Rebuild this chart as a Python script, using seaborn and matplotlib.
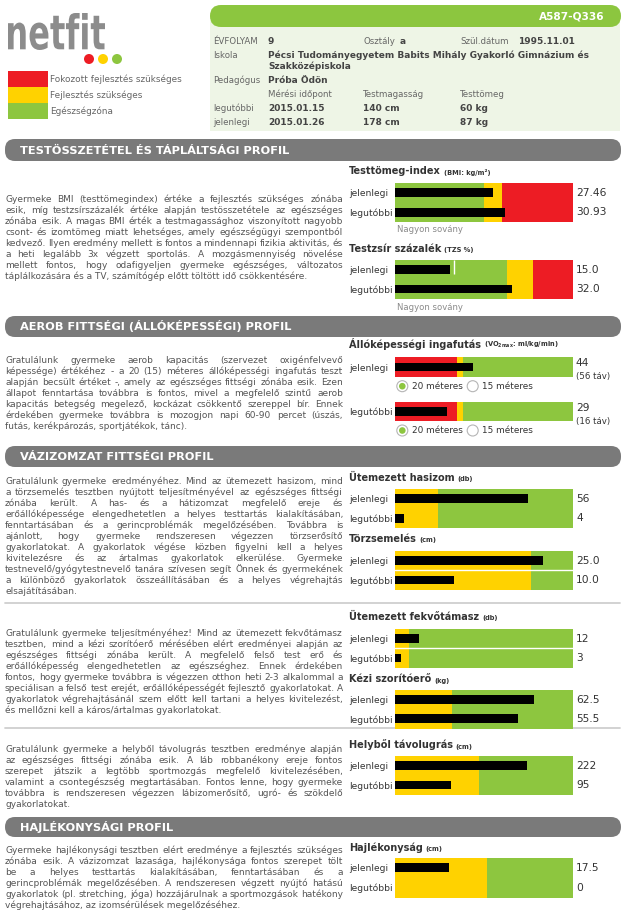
import matplotlib
matplotlib.use("Agg")
import matplotlib.pyplot as plt
import seaborn as sns
from matplotlib.patches import FancyBboxPatch, Rectangle, Circle, PathPatch
from matplotlib.textpath import TextPath
from matplotlib.font_manager import FontProperties
from matplotlib.transforms import Affine2D

sns.set_theme(style="white")
plt.rcParams["font.family"] = ["DejaVu Sans"]

# ------------------------------------------------------------------
# data
# ------------------------------------------------------------------
row_labels = ["jelenlegi", "legutóbbi"]

bmi_values = [27.46, 30.93]
bmi_text = ["27.46", "30.93"]
bmi_bounds = [0, 25, 30, 50]
bmi_zones = ["ok", "dev", "crit"]

tzs_values = [15.0, 32.0]
tzs_text = ["15.0", "32.0"]
tzs_bounds = [0, 30.5, 37.5, 48.5]
tzs_zones = ["ok", "dev", "crit"]
tzs_prev_mark = 16.2

vo2_values = [44, 29]
vo2_text = ["44", "29"]
vo2_laps = ["(56 táv)", "(16 táv)"]
vo2_bounds = [[0, 35, 38, 100], [0, 35, 38.3, 100]]
vo2_zones = ["crit", "dev", "ok"]
run_options = ["20 méteres", "15 méteres"]
run_selected = [0, 0]

hasizom_values = [56, 4]
hasizom_text = ["56", "4"]
hasizom_bounds = [0, 18, 75]

torzs_values = [25.0, 10.0]
torzs_text = ["25.0", "10.0"]
torzs_bounds = [0, 23, 30]

fekvo_values = [12, 3]
fekvo_text = ["12", "3"]
fekvo_bounds = [0, 7, 90]

kezi_values = [62.5, 55.5]
kezi_text = ["62.5", "55.5"]
kezi_bounds = [0, 25.6, 80]

tavol_values = [222, 95]
tavol_text = ["222", "95"]
tavol_bounds = [0, 141, 300]

hajl_values = [17.5, 0]
hajl_text = ["17.5", "0"]
hajl_bounds = [0, 30, 58]

two_zones = ["dev", "ok"]

legend_labels = ["Fokozott fejlesztés szükséges", "Fejlesztés szükséges", "Egészségzóna"]
legend_zones = ["crit", "dev", "ok"]

section_titles = [
    "TESTÖSSZETÉTEL ÉS TÁPLÁLTSÁGI PROFIL",
    "AEROB FITTSÉGI (ÁLLÓKÉPESSÉGI) PROFIL",
    "VÁZIZOMZAT FITTSÉGI PROFIL",
    "HAJLÉKONYSÁGI PROFIL",
]

text_body = [
    "Gyermeke BMI (testtömegindex) értéke a fejlesztés szükséges zónába",
    "esik, míg testzsírszázalék értéke alapján testösszetétele az egészséges",
    "zónába esik. A magas BMI érték a testmagassághoz viszonyított nagyobb",
    "csont- és izomtömeg miatt lehetséges, amely egészségügyi szempontból",
    "kedvező. Ilyen eredmény mellett is fontos a mindennapi fizikia aktivitás, és",
    "a heti legalább 3x végzett sportolás. A mozgásmennyiség növelése",
    "mellett fontos, hogy odafigyeljen gyermeke egészséges, változatos",
    "táplálkozására és a TV, számítógép előtt töltött idő csökkentésére.",
]
text_aerob = [
    "Gratulálunk gyermeke aerob kapacitás (szervezet oxigénfelvevő",
    "képessége) értékéhez - a 20 (15) méteres állóképességi ingafutás teszt",
    "alapján becsült értéket -, amely az egészséges fittségi zónába esik. Ezen",
    "állapot fenntartása továbbra is fontos, mivel a megfelelő szintű aerob",
    "kapacitás betegség megelező, kockázat csökkentő szereppel bír. Ennek",
    "érdekében gyermeke továbbra is mozogjon napi 60-90 percet (úszás,",
    "futás, kerékpározás, sportjátékok, tánc).",
]
text_core = [
    "Gratulálunk gyermeke eredményéhez. Mind az ütemezett hasizom, mind",
    "a törzsemelés tesztben nyújtott teljesítményével az egészséges fittségi",
    "zónába került. A has- és a hátizomzat megfelelő ereje és",
    "erőállóképessége elengedhetetlen a helyes testtartás kialakításában,",
    "fenntartásában és a gerincproblémák megelőzésében. Továbbra is",
    "ajánlott, hogy gyermeke rendszeresen végezzen törzserősítő",
    "gyakorlatokat. A gyakorlatok végése közben figyelni kell a helyes",
    "kivitelezésre és az ártalmas gyakorlatok elkerülése. Gyermeke",
    "testnevelő/gyógytestnevelő tanára szívesen segít Önnek és gyermekének",
    "a különböző gyakorlatok összeállításában és a helyes végrehajtás",
    "elsajátításában.",
]
text_upper = [
    "Gratulálunk gyermeke teljesítményéhez! Mind az ütemezett fekvőtámasz",
    "tesztben, mind a kézi szorítóerő mérésében elért eredményei alapján az",
    "egészséges fittségi zónába került. A megfelelő felső test erő és",
    "erőállóképesség elengedhetetlen az egészséghez. Ennek érdekében",
    "fontos, hogy gyermeke továbbra is végezzen otthon heti 2-3 alkalommal a",
    "speciálisan a felső test erejét, erőállóképességét fejlesztő gyakorlatokat. A",
    "gyakorlatok végrehajtásánál szem előtt kell tartani a helyes kivitelezést,",
    "és mellőzni kell a káros/ártalmas gyakorlatokat.",
]
text_jump = [
    "Gratulálunk gyermeke a helyből távolugrás tesztben eredménye alapján",
    "az egészséges fittségi zónába esik. A láb robbanékony ereje fontos",
    "szerepet játszik a legtöbb sportmozgás megfelelő kivitelezésében,",
    "valamint a csontegészség megtartásában. Fontos lenne, hogy gyermeke",
    "továbbra is rendszeresen végezzen lábizomerősítő, ugró- és szökdelő",
    "gyakorlatokat.",
]
text_flex = [
    "Gyermeke hajlékonysági tesztben elért eredménye a fejlesztés szükséges",
    "zónába esik. A vázizomzat lazasága, hajlékonysága fontos szerepet tölt",
    "be a helyes testtartás kialakításában, fenntartásában és a",
    "gerincproblémák megelőzésében. A rendszeresen végzett nyújtó hatású",
    "gyakorlatok (pl. stretching, jóga) hozzájárulnak a sportmozgások hatékony",
    "végrehajtásához, az izomsérülések megelőzéséhez.",
]

student_id = "A587-Q336"
info_grade, info_class, info_birth = "9", "a", "1995.11.01"
info_school = ["Pécsi Tudományegyetem Babits Mihály Gyakorló Gimnázium és", "Szakközépiskola"]
info_teacher = "Próba Ödön"
meas_headers = ["Mérési időpont", "Testmagasság", "Testtömeg"]
meas_rows = [
    ["legutóbbi", "2015.01.15", "140 cm", "60 kg"],
    ["jelenlegi", "2015.01.26", "178 cm", "87 kg"],
]

# ------------------------------------------------------------------
# styling
# ------------------------------------------------------------------
ZONE = {"crit": "#ed1c24", "dev": "#ffd200", "ok": "#8dc63f"}
W, H = 625, 913
DARK = "#333333"
GREY = "#666666"
PARA = dict(fontsize=6.5, color="#555555", va="baseline", ha="left")

fig = plt.figure(figsize=(W / 100, H / 100), dpi=100)
bg = fig.add_axes([0, 0, 1, 1])
bg.set_xlim(0, W)
bg.set_ylim(H, 0)
bg.axis("off")
renderer = fig.canvas.get_renderer()


def px_axes(x0, y0, x1, y1):
    return fig.add_axes([x0 / W, 1 - y1 / H, (x1 - x0) / W, (y1 - y0) / H])


def paragraph(lines, y0, x0=5, x1=343, dy=11):
    # justified block: every line but the last is stretched to the column width
    for i, line in enumerate(lines):
        y = y0 + i * dy + 3
        if i == len(lines) - 1:
            bg.text(x0, y, line, **PARA)
            continue
        words = line.split()
        arts = [bg.text(0, y, w, **PARA) for w in words]
        widths = [a.get_window_extent(renderer).width for a in arts]
        gap = (x1 - x0 - sum(widths)) / (len(words) - 1)
        x = x0
        for a, w in zip(arts, widths):
            a.set_x(x)
            x += w + gap


def section(title, y0, y1):
    bg.add_patch(FancyBboxPatch((5, y0), 616, y1 - y0,
                                boxstyle="round,pad=0,rounding_size=10",
                                fc="#7a7a7a", ec="none"))
    bg.text(20, (y0 + y1) / 2 + 4, title, fontsize=8.2, fontweight="bold",
            color="white", va="baseline")


def chart_title(y, title, unit):
    t = bg.text(349, y + 3, title, fontsize=7, fontweight="bold", color=DARK, va="baseline")
    bg.annotate(unit, xy=(1, 0), xycoords=t, xytext=(2, 0.5),
                textcoords="offset points", fontsize=4.8, fontweight="bold",
                color=DARK, va="bottom")


def zone_chart(box, values, labels, bounds, zones, texts=None, split=False):
    ax = px_axes(*box)
    for lo, hi, z in zip(bounds[:-1], bounds[1:], zones):
        ax.axvspan(lo, hi, color=ZONE[z], lw=0, zorder=0)
    sns.barplot(x=values, y=labels, orient="h", color="black", saturation=1,
                width=0.46, linewidth=0, ax=ax, zorder=2)
    ax.set_xlim(bounds[0], bounds[-1])
    ax.set_ylim(len(values) - 0.5, -0.5)
    ax.set_xticks([])
    ax.set_xlabel("")
    ax.set_ylabel("")
    ax.set_yticks(range(len(labels)), labels=labels, ha="left", fontsize=6.6, color=DARK)
    ax.tick_params(axis="y", length=0, pad=33)
    for s in ax.spines.values():
        s.set_visible(False)
    if split:
        ax.axhline(0.5, color="white", lw=1, zorder=1)
    if texts:
        tr = ax.get_yaxis_transform()
        for i, t in enumerate(texts):
            ax.text(1.017, i, t, transform=tr, va="center", ha="left",
                    fontsize=7.7, color=DARK, clip_on=False)
    return ax


# ------------------------------------------------------------------
# header
# ------------------------------------------------------------------
tp = TextPath((0, 0), "netfit", size=100, prop=FontProperties(family="DejaVu Sans", weight="bold"))
ext = tp.get_extents()
tr = (Affine2D().translate(-ext.x0, -ext.y0)
      .scale(97 / ext.width, -37 / ext.height).translate(8, 50) + bg.transData)
bg.add_patch(PathPatch(tp, transform=tr, fc="#8c8c8c", ec="none"))
for cx, z in zip([89, 103, 117], ["crit", "dev", "ok"]):
    bg.add_patch(Circle((cx, 59), 5, fc=ZONE[z], ec="none"))

for i, (lab, z) in enumerate(zip(legend_labels, legend_zones)):
    y0 = 71 + i * 16
    bg.add_patch(Rectangle((8, y0), 40, 16, fc=ZONE[z], ec="none"))
    bg.text(50, y0 + 11, lab, fontsize=6.4, color=GREY, va="baseline")

bg.add_patch(Rectangle((210, 20), 410, 111, fc="#eef5e6", ec="none"))
bg.add_patch(FancyBboxPatch((210, 5), 411, 22, boxstyle="round,pad=0,rounding_size=11",
                            fc="#8cc63f", ec="none"))
bg.text(605, 19.5, student_id, fontsize=7.6, fontweight="bold", color="white",
        ha="right", va="baseline")

INF = dict(fontsize=6.2, color=GREY, va="baseline")
VAL = dict(fontsize=6.5, color="#444444", fontweight="bold", va="baseline")
bg.text(213, 44, "ÉVFOLYAM", **INF)
bg.text(268, 44, info_grade, **VAL)
bg.text(363, 44, "Osztály", **INF)
bg.text(400, 44, info_class, **VAL)
bg.text(460, 44, "Szül.dátum", **INF)
bg.text(518, 44, info_birth, **VAL)
bg.text(213, 58, "Iskola", **INF)
bg.text(268, 58, info_school[0], **VAL)
bg.text(268, 69, info_school[1], **VAL)
bg.text(213, 83, "Pedagógus", **INF)
bg.text(268, 83, info_teacher, **VAL)
for x, h in zip([268, 363, 460], meas_headers):
    bg.text(x, 97, h, **INF)
for j, row in enumerate(meas_rows):
    y = 111 + j * 14
    bg.text(213, y, row[0], **INF)
    for x, v in zip([268, 363, 460], row[1:]):
        bg.text(x, y, v, **VAL)

# ------------------------------------------------------------------
# sections
# ------------------------------------------------------------------
section(section_titles[0], 139, 161)
section(section_titles[1], 316, 337)
section(section_titles[2], 446, 467)
section(section_titles[3], 817, 837)

paragraph(text_body, 199)
paragraph(text_aerob, 360)
paragraph(text_core, 481)
paragraph(text_upper, 633)
paragraph(text_jump, 749)
paragraph(text_flex, 850)

for y in [603, 728]:
    bg.plot([5, 620], [y, y], color="#cfcfcf", lw=1.3)

# body composition
chart_title(171.5, "Testtömeg-index", "(BMI: kg/m²)")
zone_chart((395, 182.7, 573, 222), bmi_values, row_labels, bmi_bounds, bmi_zones, bmi_text)
bg.text(397, 232, "Nagyon sovány", fontsize=6.1, color="#8a8a8a", va="baseline")

chart_title(249, "Testzsír százalék", "(TZS %)")
ax = zone_chart((395, 260, 573, 298.7), tzs_values, row_labels, tzs_bounds, tzs_zones, tzs_text)
ax.vlines(tzs_prev_mark, -0.5, 0.22, color="white", lw=1, zorder=3)
bg.text(397, 310, "Nagyon sovány", fontsize=6.1, color="#8a8a8a", va="baseline")

# aerobic
chart_title(345.5, "Állóképességi ingafutás", r"(VO$_\mathbf{2max}$: ml/kg/min)")
for i, (y0, y1) in enumerate([(357.3, 376.7), (402.3, 421)]):
    zone_chart((395, y0, 573, y1), [vo2_values[i]], [row_labels[i]], vo2_bounds[i], vo2_zones)
    bg.text(576, y0 + 8.5, vo2_text[i], fontsize=7.7, color=DARK, va="baseline")
    bg.text(576, y0 + 22, vo2_laps[i], fontsize=6.2, color=DARK, va="baseline")
    cy = y1 + 9.5
    for k, (cx, opt) in enumerate(zip([402.3, 472.7], run_options)):
        bg.add_patch(Circle((cx, cy), 5.5, fc="white", ec="#b5b5b5", lw=0.8))
        if k == run_selected[i]:
            bg.add_patch(Circle((cx, cy), 3.3, fc=ZONE["ok"], ec="none"))
        bg.text(cx + 9.5, cy + 2.7, opt, fontsize=6.4, color=DARK, va="baseline")

# musculoskeletal
chart_title(478, "Ütemezett hasizom", "(db)")
zone_chart((395, 489, 573, 528), hasizom_values, row_labels, hasizom_bounds, two_zones, hasizom_text)
chart_title(539, "Törzsemelés", "(cm)")
zone_chart((395, 551, 573, 589.7), torzs_values, row_labels, torzs_bounds, two_zones, torzs_text, split=True)

chart_title(617, "Ütemezett fekvőtámasz", "(db)")
zone_chart((395, 629, 573, 667.7), fekvo_values, row_labels, fekvo_bounds, two_zones, fekvo_text, split=True)
chart_title(679.5, "Kézi szorítóerő", "(kg)")
zone_chart((395, 690, 573, 728.5), kezi_values, row_labels, kezi_bounds, two_zones, kezi_text)

chart_title(745.5, "Helyből távolugrás", "(cm)")
zone_chart((395, 756, 573, 794.7), tavol_values, row_labels, tavol_bounds, two_zones, tavol_text)

# flexibility
chart_title(848, "Hajlékonyság", "(cm)")
zone_chart((395, 858, 573, 897.5), hajl_values, row_labels, hajl_bounds, two_zones, hajl_text)

fig.savefig("out.png", dpi=100)
